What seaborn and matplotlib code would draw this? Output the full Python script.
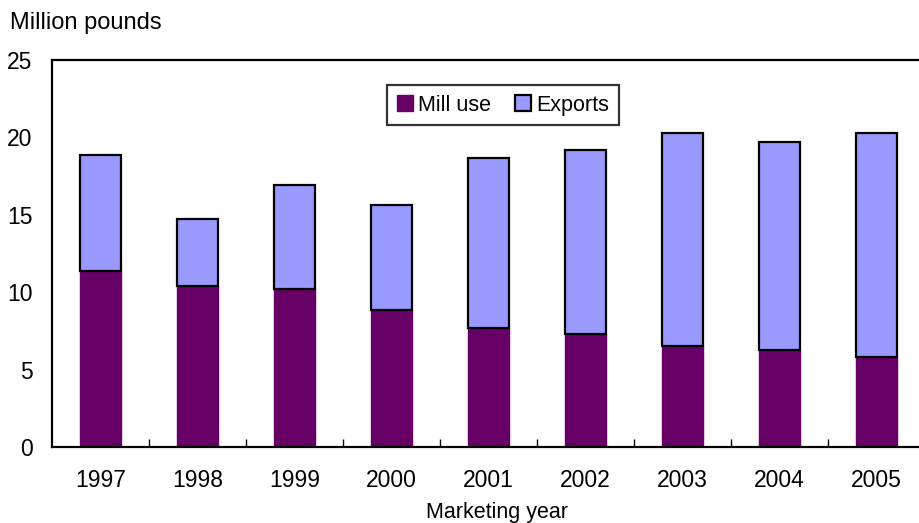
import matplotlib
matplotlib.use("Agg")
import matplotlib.pyplot as plt
import seaborn as sns
import pandas as pd
import numpy as np
from matplotlib.patches import Patch

years = ["1997", "1998", "1999", "2000", "2001", "2002", "2003", "2004", "2005"]
mill_use = [11.36, 10.41, 10.20, 8.86, 7.70, 7.27, 6.50, 6.28, 5.79]
exports = [7.49, 4.31, 6.75, 6.76, 11.00, 11.94, 13.77, 13.43, 14.52]
yticks = [0, 5, 10, 15, 20, 25]

mill_color = "#660066"
exp_color = "#9999FF"

df = pd.DataFrame({"year": years, "mill": mill_use, "exports": exports})

sns.set_style("white")
plt.rcParams["font.family"] = ["Liberation Sans", "DejaVu Sans"]
plt.rcParams["text.color"] = "black"
plt.rcParams["xtick.color"] = "black"
plt.rcParams["ytick.color"] = "black"
plt.rcParams["axes.labelcolor"] = "black"

fig = plt.figure(figsize=(9.2, 5.23), dpi=100)
ax = fig.add_axes([52 / 920, 76 / 523, 873 / 920, 387 / 523])

sns.barplot(data=df, x="year", y="mill", color=mill_color, saturation=1,
            width=0.42, edgecolor=mill_color, linewidth=1.0, ax=ax)
sns.barplot(data=df, x="year", y="exports", bottom=df["mill"].values, color=exp_color,
            saturation=1, width=0.42, edgecolor="black", linewidth=1.6, ax=ax)

ax.set_xlim(-0.5, len(years) - 0.5)
ax.set_ylim(0, 25)
ax.set_yticks(yticks)
ax.set_yticklabels([str(t) for t in yticks], fontsize=16.5)
ax.set_xticks(np.arange(len(years)))
ax.set_xticklabels(years, fontsize=16.5)
ax.tick_params(axis="x", which="major", length=0, pad=16)
ax.tick_params(axis="y", which="major", length=0, pad=14)
# inward ticks at category boundaries and y ticks
ax.set_xticks(np.arange(len(years) - 1) + 0.5, minor=True)
ax.tick_params(axis="x", which="minor", bottom=True, direction="in", length=6, width=1, color="black")
ax.set_yticks(yticks, minor=True)
ax.tick_params(axis="y", which="minor", left=True, direction="in", length=6, width=1, color="black")

for s in ["left", "bottom", "top", "right"]:
    ax.spines[s].set_visible(True)
    ax.spines[s].set_color("black")
    ax.spines[s].set_linewidth(1.6)

ax.set_ylabel("")
ax.set_xlabel("Marketing year", fontsize=15.5)
ax.xaxis.set_label_coords((497 - 52) / 873, -0.143)

fig.text(10 / 920, 1 - 23 / 523, "Million pounds", fontsize=17, ha="left", va="center")

handles = [Patch(facecolor=mill_color, edgecolor=mill_color, label="Mill use"),
           Patch(facecolor=exp_color, edgecolor="black", linewidth=1.6, label="Exports")]
leg = ax.legend(handles=handles, loc="upper center", bbox_to_anchor=((503 - 52) / 873, 1 - 25 / 387),
                ncol=2, fontsize=15.5, frameon=True, fancybox=False, handlelength=0.75,
                handleheight=0.75, handletextpad=0.25, columnspacing=1.1, borderpad=0.45,
                borderaxespad=0)
leg.get_frame().set_edgecolor("black")
leg.get_frame().set_linewidth(1.6)

fig.savefig("out.png", dpi=100)
